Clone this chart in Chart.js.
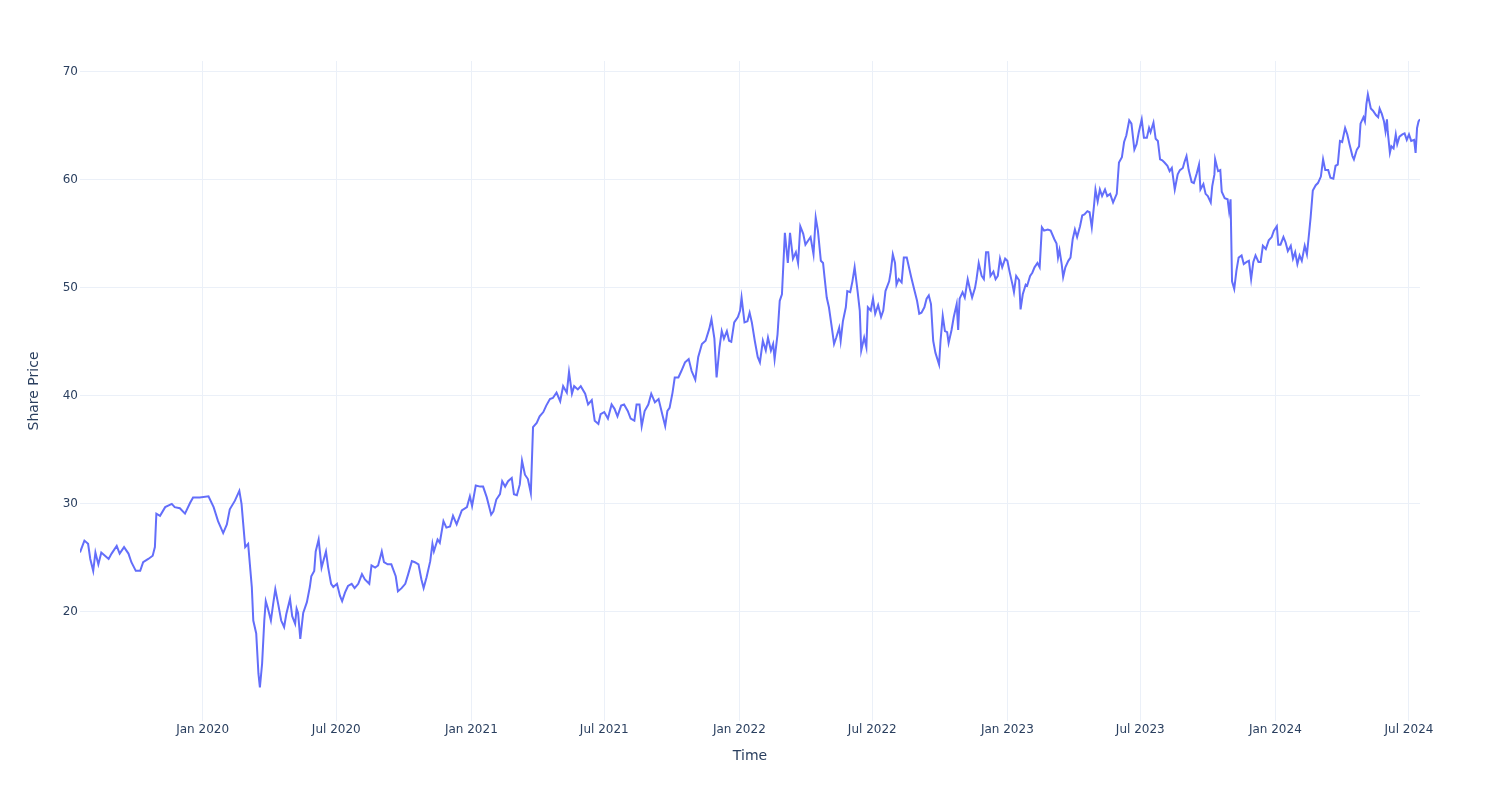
<!DOCTYPE html>
<html>
<head>
<meta charset="utf-8">
<script src="https://cdn.jsdelivr.net/npm/chart.js@4.4.1/dist/chart.umd.min.js"></script>
<style>
html,body{margin:0;padding:0;background:#ffffff;}
#wrap{width:1500px;height:800px;position:relative;}
</style>
</head>
<body>
<div id="wrap"><canvas id="c" width="1500" height="800"></canvas></div>
<script>
// ---- data ----
const startDate = '2019-07-18';
// days elapsed since startDate for each reading
const dayOffsets = [
  0,6,11,14,18,21,25,29,34,39,
  43,50,54,60,66,70,76,82,86,93,
  99,102,104,109,116,125,129,136,143,150,
  154,163,175,182,188,195,200,204,211,217,
  220,225,229,234,236,240,243,245,248,251,
  253,256,260,263,266,270,274,278,281,286,
  289,293,295,297,300,304,309,313,315,319,
  321,325,329,335,338,342,345,350,354,357,
  361,365,370,374,379,384,388,394,397,402,
  406,411,414,419,424,430,433,438,443,447,
  452,456,461,465,468,472,477,480,482,487,
  490,495,499,504,508,513,520,527,531,534,
  539,545,549,554,560,563,567,572,575,579,
  583,588,591,595,599,602,606,610,614,617,
  622,626,631,635,640,644,649,654,658,663,
  666,670,673,678,682,688,692,697,701,706,
  709,714,719,724,728,732,737,741,746,750,
  755,758,762,765,769,774,778,783,788,793,
  797,800,803,807,810,815,819,824,829,833,
  838,842,847,852,857,860,864,867,871,874,
  877,881,884,887,891,896,899,901,905,909,
  912,915,919,923,926,930,934,937,941,944,
  946,950,953,956,960,964,967,971,975,978,
  981,985,988,992,995,999,1002,1005,1009,1012,
  1014,1017,1020,1024,1027,1030,1034,1036,1039,1043,
  1045,1049,1052,1055,1059,1062,1064,1068,1071,1073,
  1077,1080,1083,1087,1091,1094,1097,1102,1104,1107,
  1110,1112,1115,1119,1122,1126,1129,1132,1136,1140,
  1143,1146,1150,1153,1156,1159,1162,1165,1170,1172,
  1175,1178,1181,1183,1187,1190,1194,1196,1198,1202,
  1205,1209,1212,1215,1219,1221,1224,1228,1231,1234,
  1237,1240,1244,1247,1250,1253,1256,1260,1263,1266,
  1270,1272,1275,1279,1281,1284,1288,1290,1294,1297,
  1300,1304,1307,1310,1313,1318,1322,1327,1330,1332,
  1334,1337,1339,1342,1346,1349,1352,1355,1358,1362,
  1365,1368,1372,1375,1378,1381,1383,1386,1389,1392,
  1396,1399,1403,1407,1412,1415,1419,1422,1425,1429,
  1432,1436,1439,1442,1446,1449,1453,1456,1458,1462,
  1465,1468,1471,1474,1477,1481,1484,1487,1491,1495,
  1498,1502,1504,1507,1510,1514,1517,1521,1524,1526,
  1530,1533,1536,1540,1542,1545,1546,1550,1553,1555,
  1559,1563,1565,1567,1569,1572,1575,1578,1582,1585,
  1589,1592,1595,1598,1601,1605,1608,1611,1615,1619,
  1623,1626,1630,1632,1635,1639,1642,1645,1649,1652,
  1655,1658,1661,1664,1668,1671,1674,1676,1679,1683,
  1686,1690,1693,1696,1700,1703,1707,1710,1713,1716,
  1719,1723,1726,1729,1733,1735,1739,1742,1744,1748,
  1750,1752,1754,1758,1761,1765,1768,1770,1773,1776,
  1778,1780,1781,1784,1786,1789,1792,1794,1797,1801,
  1804,1807,1810,1813,1817,1819,1821,1823,1825
];
const sharePrice = [
  25.5,26.6,26.3,24.9,23.8,25.5,24.4,25.5,25.2,24.9,
  25.4,26.1,25.4,26.0,25.4,24.6,23.8,23.8,24.6,24.9,
  25.2,26.0,29.1,28.9,29.7,30.0,29.7,29.6,29.1,30.1,
  30.6,30.6,30.7,29.7,28.4,27.3,28.1,29.5,30.3,31.2,
  30.0,26.0,26.3,22.3,19.2,18.0,14.3,13.0,15.2,19.2,
  21.0,20.3,19.2,20.7,22.1,20.7,19.2,18.6,19.8,21.2,
  19.6,18.9,20.3,19.9,17.5,19.9,20.9,22.3,23.3,23.8,
  25.6,26.7,24.1,25.6,24.1,22.6,22.3,22.6,21.5,21.0,
  21.8,22.4,22.6,22.2,22.6,23.5,23.0,22.6,24.3,24.1,
  24.3,25.6,24.6,24.4,24.4,23.3,21.9,22.2,22.6,23.5,
  24.7,24.6,24.4,23.0,22.2,23.2,24.7,26.3,25.6,26.7,
  26.4,28.4,27.8,27.9,28.9,28.1,29.4,29.7,30.7,29.8,
  31.7,31.6,31.6,30.6,29.0,29.3,30.4,30.9,32.1,31.6,
  32.1,32.4,30.9,30.8,31.8,34.0,32.7,32.3,31.0,37.1,
  37.5,38.1,38.5,39.1,39.7,39.8,40.3,39.5,40.9,40.3,
  42.2,40.2,40.9,40.6,40.9,40.2,39.2,39.6,37.7,37.4,
  38.3,38.5,37.9,39.2,38.8,38.1,39.1,39.2,38.6,37.9,
  37.7,39.2,39.2,37.2,38.6,39.2,40.2,39.4,39.7,38.3,
  37.2,38.6,38.9,40.3,41.7,41.7,42.3,43.1,43.4,42.3,
  41.5,43.6,44.8,45.1,46.2,47.1,45.3,41.7,44.5,46.0,
  45.3,46.0,45.1,45.0,46.8,47.3,47.9,49.1,46.8,46.9,
  47.7,46.8,45.1,43.6,43.1,45.1,44.2,45.4,44.2,44.8,
  43.4,45.7,48.8,49.4,55.1,52.3,55.1,52.7,53.3,52.3,
  55.7,55.0,54.0,54.4,54.7,53.1,56.5,55.3,52.5,52.3,
  51.0,49.1,48.2,46.3,44.8,45.4,46.3,45.1,46.9,48.2,
  49.7,49.6,50.6,51.9,49.7,47.9,44.2,45.4,44.5,48.2,
  47.9,49.0,47.6,48.4,47.3,47.9,49.7,50.6,51.4,53.1,
  52.3,50.3,50.8,50.5,52.8,52.8,51.9,51.0,49.9,48.8,
  47.6,47.7,48.2,49.0,49.3,48.5,45.1,44.0,42.9,45.1,
  47.4,46.0,45.9,44.9,46.1,47.3,48.5,46.1,49.0,49.6,
  49.1,50.8,49.9,49.1,50.0,50.8,52.3,51.1,50.8,53.3,
  53.3,51.1,51.5,50.8,51.1,52.7,51.9,52.7,52.5,51.5,
  50.3,49.6,51.1,50.7,48.0,49.4,50.3,50.2,51.1,51.4,
  51.9,52.3,51.9,55.6,55.3,55.4,55.3,54.5,54.1,52.8,
  53.5,52.2,51.0,51.9,52.5,52.8,54.5,55.4,54.7,55.7,
  56.7,56.8,57.1,57.0,55.6,57.6,59.1,58.0,59.1,58.5,
  59.1,58.5,58.7,57.9,58.7,61.6,62.1,63.5,64.1,65.5,
  65.2,62.8,63.3,64.4,65.6,63.9,63.9,64.8,64.4,65.3,
  63.8,63.6,61.9,61.8,61.6,61.3,60.8,61.1,59.1,60.5,
  60.9,61.1,61.6,62.2,60.9,59.8,59.7,60.6,61.4,59.1,
  59.6,58.7,58.5,57.9,59.4,60.5,61.9,60.8,60.9,58.9,
  58.3,58.2,57.1,58.2,50.6,49.9,51.6,52.8,53.0,52.2,
  52.4,52.5,50.8,52.4,53.0,52.4,52.4,53.9,53.6,54.4,
  54.7,55.3,55.7,54.0,54.0,54.7,54.2,53.4,53.9,52.7,
  53.3,52.2,53.0,52.5,53.9,53.1,55.1,56.5,59.0,59.5,
  59.7,60.3,61.9,60.9,60.9,60.2,60.1,61.3,61.4,63.6,
  63.5,64.8,64.2,63.3,62.2,61.9,62.8,63.1,65.2,65.8,
  65.4,67.0,67.9,66.6,66.4,66.0,65.8,66.6,66.1,65.4,
  64.5,65.6,64.5,62.5,63.1,62.9,64.2,63.3,64.0,64.2,
  64.3,63.7,64.2,63.6,63.7,62.5,64.8,65.4,65.6
];
const xTickDates = ['2020-01-01','2020-07-01','2021-01-01','2021-07-01','2022-01-01','2022-07-01','2023-01-01','2023-07-01','2024-01-01','2024-07-01'];
const xTickLabels = ['Jan 2020','Jul 2020','Jan 2021','Jul 2021','Jan 2022','Jul 2022','Jan 2023','Jul 2023','Jan 2024','Jul 2024'];
const yTickValues = [20, 30, 40, 50, 60, 70];
const yRange = [9.9, 71.0];
const xTitle = 'Time';
const yTitle = 'Share Price';

if (dayOffsets.length !== sharePrice.length) {
  throw new Error('length mismatch ' + dayOffsets.length + ' vs ' + sharePrice.length);
}

// ---- build ----
const DAY = 86400000;
const t0 = Date.parse(startDate + 'T00:00:00Z');
const xTickDays = xTickDates.map(d => (Date.parse(d + 'T00:00:00Z') - t0) / DAY);
const points = dayOffsets.map((d, i) => ({ x: d, y: sharePrice[i] }));

const FONT = '"DejaVu Sans", Verdana, sans-serif';
const TXT = '#2a3f5f';
const GRID = '#EBF0F8';

new Chart(document.getElementById('c'), {
  type: 'line',
  data: {
    datasets: [{
      data: points,
      borderColor: '#636EFA',
      borderWidth: 2,
      pointRadius: 0,
      pointHoverRadius: 0,
      tension: 0,
      fill: false
    }]
  },
  options: {
    responsive: false,
    animation: false,
    devicePixelRatio: 1,
    layout: { padding: { left: 0, top: 61, right: 80, bottom: 0 } },
    plugins: { legend: { display: false }, tooltip: { enabled: false } },
    scales: {
      x: {
        type: 'linear',
        min: dayOffsets[0],
        max: dayOffsets[dayOffsets.length - 1],
        afterBuildTicks: s => { s.ticks = xTickDays.map(v => ({ value: v })); },
        afterFit: s => { s.height = 79; },
        grid: { color: GRID, lineWidth: 1, drawTicks: false },
        border: { display: false },
        ticks: {
          autoSkip: false, maxRotation: 0, minRotation: 0, padding: 2,
          color: TXT, font: { family: FONT, size: 12 },
          callback: (v, i) => xTickLabels[i]
        },
        title: {
          display: true, text: xTitle, color: TXT,
          font: { family: FONT, size: 14 },
          padding: { top: 0, bottom: 35 }
        }
      },
      y: {
        type: 'linear',
        min: yRange[0],
        max: yRange[1],
        afterBuildTicks: s => { s.ticks = yTickValues.map(v => ({ value: v })); },
        afterFit: s => { s.width = 80; },
        grid: { color: GRID, lineWidth: 1, drawTicks: false },
        border: { display: false },
        ticks: {
          padding: 2, color: TXT, font: { family: FONT, size: 12 },
          callback: v => String(v)
        },
        title: {
          display: true, text: yTitle, color: TXT,
          font: { family: FONT, size: 14 },
          padding: { top: 25.6, bottom: 0 }
        }
      }
    }
  }
});
</script>
</body>
</html>
